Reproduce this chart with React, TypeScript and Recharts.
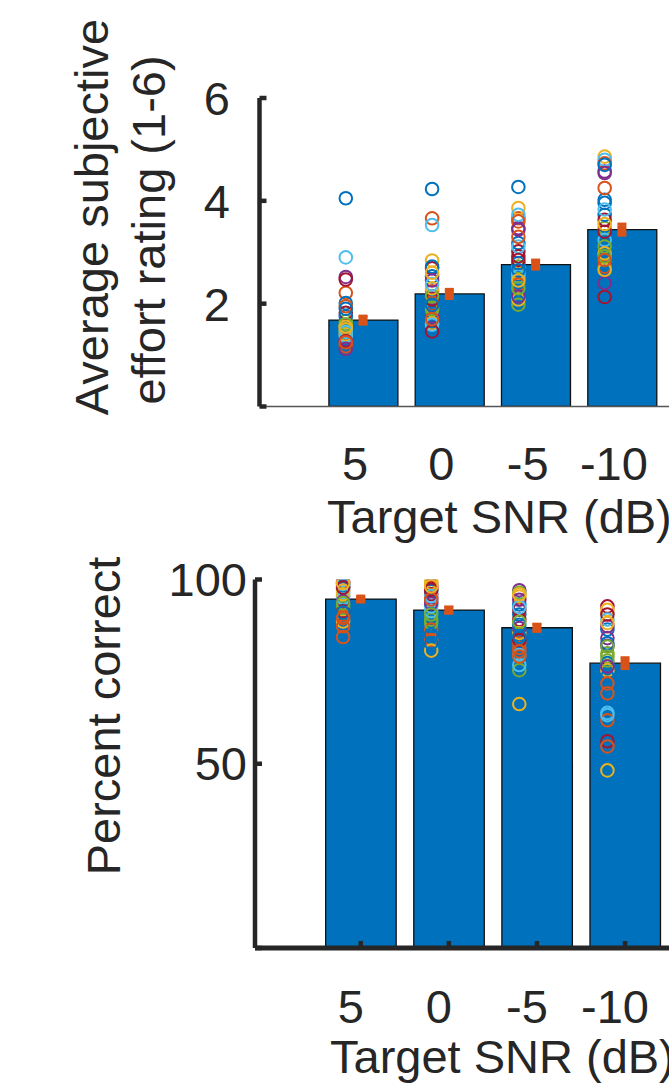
import React from 'react';
import { ComposedChart, Bar, Scatter, XAxis, YAxis, ErrorBar } from 'recharts';

// ---------- data ----------
const SNR_LABELS = ['5', '0', '-5', '-10'];
const SNR_POSITIONS = [1, 2, 3, 4];

const EFFORT_MEANS = [1.68, 2.19, 2.76, 3.44];
const EFFORT_SEM = [0.08, 0.09, 0.09, 0.11];
const EFFORT_SNR_5 = [4.05, 2.21, 1.56, 2.52, 1.66, 2.9, 2.47, 2.01, 1.17, 1.4, 1.3, 1.46, 1.37, 1.82, 1.75, 1.95, 1.5, 1.12, 1.6, 1.45, 1.27, 1.9, 1.25, 1.55];
const EFFORT_SNR_0 = [4.23, 3.66, 2.84, 1.75, 1.88, 3.53, 2.69, 2.72, 2.24, 1.62, 2.1, 1.92, 1.59, 2.08, 2.53, 2.0, 2.3, 2.45, 2.15, 2.38, 1.46, 1.98, 1.7, 2.6];
const EFFORT_SNR_M5 = [4.27, 3.66, 3.86, 3.47, 1.98, 3.73, 3.02, 3.18, 3.6, 2.6, 3.44, 2.72, 2.53, 2.92, 2.79, 2.37, 2.08, 2.14, 2.3, 3.11, 2.85, 2.65, 3.3, 2.45];
const EFFORT_SNR_M10 = [4.02, 4.25, 4.86, 4.57, 3.47, 3.24, 2.13, 3.73, 2.72, 2.98, 2.4, 3.11, 4.8, 3.63, 3.96, 4.73, 2.66, 4.54, 2.92, 3.83, 3.4, 4.7, 2.85, 3.55];

const ACC_MEANS = [94.7, 91.7, 86.9, 77.3];
const ACC_SEM = [0.4, 0.8, 1.0, 1.5];
const ACC_SNR_5 = [97.5, 84.4, 88.6, 98.0, 93.0, 96.5, 99.3, 95.5, 87.3, 97.0, 99.0, 92.3, 95.0, 91.4, 98.5, 90.0, 96.0, 94.0, 93.6, 98.8, 97.8, 91.0, 89.5, 99.0];
const ACC_SNR_0 = [96.8, 83.6, 99.5, 95.0, 89.1, 92.7, 97.7, 94.1, 86.4, 80.7, 98.6, 88.2, 91.4, 96.0, 82.7, 98.0, 99.0, 93.5, 90.5, 95.5, 97.2, 85.0, 94.6, 98.2];
const ACC_SNR_M5 = [90.5, 81.4, 66.2, 97.1, 75.4, 76.8, 89.1, 93.2, 82.7, 85.5, 86.8, 96.4, 79.5, 91.8, 87.7, 79.1, 95.4, 94.5, 88.5, 92.5, 83.6, 84.5, 80.5, 96.0];
const ACC_SNR_M10 = [86.4, 69.1, 48.2, 84.1, 80.0, 63.8, 92.7, 82.7, 61.8, 91.8, 82.0, 79.1, 89.1, 56.1, 77.3, 54.7, 75.4, 87.3, 78.0, 63.2, 90.5, 73.6, 71.8, 88.2, 76.4, 81.8];

// ---------- styles ----------
const PALETTE = ['#0072BD', '#D95319', '#EDB120', '#7E2F8E', '#77AC30', '#4DBEEE', '#A2142F'];
const BAR_FILL = '#0072BD';
const MEAN_COLOR = '#D95319';
const AXIS_COLOR = '#262626';
const FONT = '"Liberation Sans", Arial, Helvetica, sans-serif';
const FONT_SIZE = 47;
const JITTER_OFFSET = 0.2;

// ---------- tables ----------
const buildBars = (means: number[], sem: number[]) =>
  SNR_POSITIONS.map((x, i) => ({ x, y: means[i], sem: sem[i] }));

const buildPoints = (groups: number[][]) =>
  groups.flatMap((vals, g) =>
    vals.map((v, i) => ({ x: SNR_POSITIONS[g] - JITTER_OFFSET, y: v, color: PALETTE[i % PALETTE.length] }))
  );

const effortBars = buildBars(EFFORT_MEANS, EFFORT_SEM);
const effortPoints = buildPoints([EFFORT_SNR_5, EFFORT_SNR_0, EFFORT_SNR_M5, EFFORT_SNR_M10]);
const accBars = buildBars(ACC_MEANS, ACC_SEM);
const accPoints = buildPoints([ACC_SNR_5, ACC_SNR_0, ACC_SNR_M5, ACC_SNR_M10]);

// ---------- shapes ----------
const Ring = (props: any) => {
  const { cx, cy, payload } = props;
  if (cx == null || cy == null) return null;
  return <circle cx={cx} cy={cy} r={6.3} fill="none" stroke={payload.color} strokeWidth={2} />;
};

const MeanSquare = (props: any) => {
  const { cx, cy } = props;
  if (cx == null || cy == null) return null;
  return <rect x={cx - 4.5} y={cy - 4.5} width={9} height={9} fill={MEAN_COLOR} />;
};

const textStyle = { fontFamily: FONT, fontSize: FONT_SIZE, fill: AXIS_COLOR } as const;

const makeYTick = (labelDx: number, labelDy: number) => (props: any) => {
  const { x, y, payload } = props;
  return (
    <g>
      <line x1={x} x2={x + 7} y1={y} y2={y} stroke={AXIS_COLOR} strokeWidth={4.5} />
      {payload.value !== 0 && (
        <text x={x - labelDx} y={y + labelDy} textAnchor="end" {...textStyle}>
          {payload.value}
        </text>
      )}
    </g>
  );
};

const makeXTick = (labelDx: number, labelDy: number, tickLen: number) => (props: any) => {
  const { x, y, payload } = props;
  const label = SNR_LABELS[SNR_POSITIONS.indexOf(payload.value)];
  return (
    <g>
      {tickLen > 0 && <line x1={x} x2={x} y1={y} y2={y - tickLen} stroke={AXIS_COLOR} strokeWidth={4.5} />}
      <text x={x + labelDx} y={y + labelDy} textAnchor="middle" {...textStyle}>
        {label}
      </text>
    </g>
  );
};

const X_DOMAIN: [number, number] = [-0.2, 5.6];

export default function App() {
  return (
    <div
      style={{
        position: 'absolute',
        left: 0,
        top: 0,
        width: 669,
        height: 1084,
        overflow: 'hidden',
        background: '#ffffff',
      }}
    >
      {/* Top panel: subjective effort */}
      <div style={{ position: 'absolute', left: 0, top: 0 }}>
        <ComposedChart
          width={760}
          height={540}
          data={effortBars}
          margin={{ top: 98, right: 0, bottom: 73.5, left: 199.5 }}
        >
          <XAxis
            type="number"
            dataKey="x"
            domain={X_DOMAIN}
            ticks={SNR_POSITIONS}
            interval={0}
            allowDataOverflow
            height={60}
            tickSize={0}
            tickMargin={0}
            tickLine={false}
            axisLine={{ stroke: '#555555', strokeWidth: 1.4 }}
            tick={makeXTick(-8, 73.5, 0)}
          />
          <XAxis xAxisId="pts" type="number" dataKey="x" domain={X_DOMAIN} allowDataOverflow hide />
          <YAxis
            type="number"
            dataKey="y"
            domain={[0, 6]}
            ticks={[0, 2, 4, 6]}
            interval={0}
            allowDataOverflow
            width={60}
            tickSize={0}
            tickMargin={0}
            tickLine={false}
            axisLine={{ stroke: AXIS_COLOR, strokeWidth: 4.5 }}
            tick={makeYTick(29.5, 17)}
          />
          <Bar dataKey="y" barSize={69} fill={BAR_FILL} stroke="#111111" strokeWidth={1.3} isAnimationActive={false} />
          <Scatter xAxisId="pts" data={effortPoints} dataKey="y" shape={Ring} isAnimationActive={false} />
          <Scatter data={effortBars} dataKey="y" shape={MeanSquare} isAnimationActive={false}>
            <ErrorBar dataKey="sem" direction="y" width={4.5} stroke={MEAN_COLOR} strokeWidth={2.8} isAnimationActive={false} />
          </Scatter>
        </ComposedChart>
      </div>

      {/* Bottom panel: percent correct */}
      <div style={{ position: 'absolute', left: 0, top: 540 }}>
        <ComposedChart
          width={766}
          height={544}
          data={accBars}
          margin={{ top: 39.5, right: 0, bottom: 76, left: 195 }}
        >
          <XAxis
            type="number"
            dataKey="x"
            domain={X_DOMAIN}
            ticks={SNR_POSITIONS}
            interval={0}
            allowDataOverflow
            height={60}
            tickSize={0}
            tickMargin={0}
            tickLine={false}
            axisLine={{ stroke: AXIS_COLOR, strokeWidth: 5 }}
            tick={makeXTick(-10, 75, 7)}
          />
          <XAxis xAxisId="pts" type="number" dataKey="x" domain={X_DOMAIN} allowDataOverflow hide />
          <YAxis
            type="number"
            dataKey="y"
            domain={[0, 100]}
            ticks={[0, 50, 100]}
            interval={0}
            allowDataOverflow
            width={60}
            tickSize={0}
            tickMargin={0}
            tickLine={false}
            axisLine={{ stroke: AXIS_COLOR, strokeWidth: 4.5 }}
            tick={makeYTick(8, 16)}
          />
          <Bar dataKey="y" barSize={70.5} fill={BAR_FILL} stroke="#111111" strokeWidth={1.3} isAnimationActive={false} />
          <Scatter xAxisId="pts" data={accPoints} dataKey="y" shape={Ring} isAnimationActive={false} />
          <Scatter data={accBars} dataKey="y" shape={MeanSquare} isAnimationActive={false}>
            <ErrorBar dataKey="sem" direction="y" width={4.5} stroke={MEAN_COLOR} strokeWidth={2.8} isAnimationActive={false} />
          </Scatter>
        </ComposedChart>
      </div>

      {/* Axis titles */}
      <svg
        width={669}
        height={1084}
        style={{ position: 'absolute', left: 0, top: 0, pointerEvents: 'none' }}
      >
        <text transform="translate(108,217) rotate(-90)" textAnchor="middle" {...textStyle}>
          Average subjective
        </text>
        <text transform="translate(165,230) rotate(-90)" textAnchor="middle" {...textStyle}>
          effort rating (1-6)
        </text>
        <text x={327} y={533} textAnchor="start" {...textStyle}>
          Target SNR (dB)
        </text>
        <text transform="translate(120,716) rotate(-90)" textAnchor="middle" {...textStyle}>
          Percent correct
        </text>
        <text x={330} y={1073} textAnchor="start" {...textStyle}>
          Target SNR (dB)
        </text>
      </svg>
    </div>
  );
}
